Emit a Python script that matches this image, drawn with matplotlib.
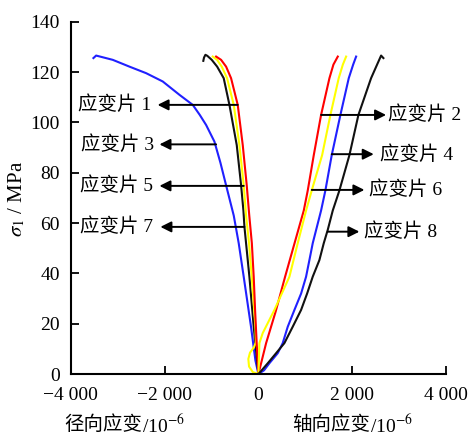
import matplotlib
matplotlib.use("Agg")
import matplotlib.pyplot as plt

plt.rcParams["font.family"] = ["Liberation Serif", "Noto Sans CJK SC", "DejaVu Serif"]
plt.rcParams["mathtext.fontset"] = "stix"
plt.rcParams["font.size"] = 14
plt.rcParams["xtick.direction"] = "in"
plt.rcParams["ytick.direction"] = "in"

# strain gauge curves: strain (10^-6) vs axial stress (MPa)
g1_x = [0, -36, -70, -100, -140, -195, -249, -334, -441, -583, -689, -796, -902]
g1_y = [0, 12, 25, 38.6, 52, 63, 75, 91, 107, 117.6, 122.2, 124.9, 126.2]

g3_x = [0, -64, -157, -313, -420, -526, -689, -810, -938, -1115, -1250, -1400,
        -1684, -2040, -2394, -2750, -3106, -3460, -3518]
g3_y = [0, 5.4, 18.7, 38.6, 52, 63, 75, 84, 92.4, 99, 103, 107,
        111, 116.3, 119.6, 122.2, 124.9, 126.6, 125.6]

g5_x = [0, -120, -200, -215, -180, -100, -55, -64, -142, -200, -263, -313,
        -405, -526, -668, -782, -881, -974]
g5_y = [0, 0.8, 3, 6, 8.5, 10.5, 12.5, 18.7, 38.6, 52, 63, 75,
        91, 107, 117.6, 122.2, 124.9, 126.2]

g7_x = [0, -100, -192, -298, -320, -369, -462, -618, -740, -880, -995, -1090,
        -1130, -1160, -1175]
g7_y = [0, 18.7, 38.6, 58.5, 65, 75, 91, 107, 117.6, 122.2, 124.9, 126.5,
        126.9, 125.8, 124.5]

g2_x = [0, 164, 370, 569, 770, 967, 1052, 1180, 1336, 1514, 1599, 1692]
g2_y = [0, 12.3, 25, 38.7, 52, 65, 73, 87, 103, 117.6, 123, 126.2]

g4_x = [0, 120, 234, 412, 518, 625, 768, 910, 1016, 1087, 1158, 1336, 1428,
        1563, 1748, 1926, 2020, 2083]
g4_y = [0, 1.5, 4.3, 8.3, 12.3, 18.8, 25.5, 32, 38.7, 45.3, 52, 65, 73,
        87, 103, 117.6, 123, 126.2]

g6_x = [0, 10, 21, 92, 341, 661, 838, 1016, 1137, 1358, 1535, 1712, 1800, 1870]
g6_y = [0, 6, 12.3, 16.3, 25.5, 38.7, 52, 65, 73, 87, 103, 117.6, 123, 126.2]

g8_x = [0, 199, 377, 554, 731, 910, 1038, 1158, 1300, 1393, 1478, 1585, 1727,
        1940, 2132, 2402, 2530, 2616, 2665]
g8_y = [0, 4.3, 8.3, 12.3, 18.8, 25.5, 32, 38.7, 45.3, 52, 57.3, 65, 73,
        87, 103, 117.6, 123, 126.6, 125.6]

curves = [
    (g3_x, g3_y, "#2020ff"),
    (g7_x, g7_y, "#111111"),
    (g5_x, g5_y, "#ffff00"),
    (g1_x, g1_y, "#ff0000"),
    (g2_x, g2_y, "#ff0000"),
    (g6_x, g6_y, "#ffff00"),
    (g4_x, g4_y, "#2020ff"),
    (g8_x, g8_y, "#111111"),
]

# gauge labels: name, arrow tail (on curve), arrow head x, label x
labels = ["应变片 1", "应变片 3", "应变片 5", "应变片 7",
          "应变片 2", "应变片 4", "应变片 6", "应变片 8"]
tail_x = [-441, -902, -313, -298, 1336, 1563, 1137, 1478]
tail_y = [107, 91.3, 74.8, 58.5, 103, 87.4, 73.2, 56.6]
head_x = [-2150, -2110, -2110, -2090, 2722, 2459, 2260, 2153]
text_x = [-2288, -2217, -2239, -2239, 2772, 2601, 2367, 2260]

xticks = [-4000, -2000, 0, 2000, 4000]
xticklabels = ["\u22124 000", "\u22122 000", "0", "2 000", "4 000"]
yticks = [0, 20, 40, 60, 80, 100, 120, 140]

fig = plt.figure(figsize=(4.69, 4.37), dpi=100)
ax = fig.add_axes([0.151, 0.144, 0.80, 0.806])

for xs, ys, c in curves:
    ax.plot(xs, ys, color=c, lw=1.5)

for name, tx, ty, hx, lx in zip(labels, tail_x, tail_y, head_x, text_x):
    ax.annotate("", xy=(hx, ty), xytext=(tx, ty),
                arrowprops=dict(arrowstyle="-|>", color="black", lw=1.4,
                                mutation_scale=16, shrinkA=0, shrinkB=0))
    ha = "right" if hx < 0 else "left"
    ax.text(lx, ty, name, ha=ha, va="center", fontsize=14)

ax.set_xlim(-4000, 4000)
ax.set_ylim(0, 140)
ax.set_xticks(xticks)
ax.set_xticklabels(xticklabels)
ax.set_yticks(yticks)
ax.tick_params(length=6, width=1.3, labelsize=14)
ax.tick_params(axis="x", pad=9)
ax.tick_params(axis="y", pad=8)
for s in ["top", "right"]:
    ax.spines[s].set_visible(False)
for s in ["left", "bottom"]:
    ax.spines[s].set_linewidth(1.5)

ax.set_ylabel(r"$\sigma_1$ / MPa", fontsize=15)
ax.yaxis.set_label_coords(-0.115, 0.497)

# x-axis captions: Chinese part, then the unit with a real superscript
xt = ax.get_xaxis_transform()
for cx, word in [(-4136, "径向应变"), (725, "轴向应变")]:
    t = ax.text(cx, -0.145, word, transform=xt, ha="left", va="center", fontsize=14)
    ax.annotate(r"/10$^{-6}$", xy=(1, 0.5), xycoords=t, ha="left", va="center",
                fontsize=14)

fig.savefig("out.png", dpi=100)
